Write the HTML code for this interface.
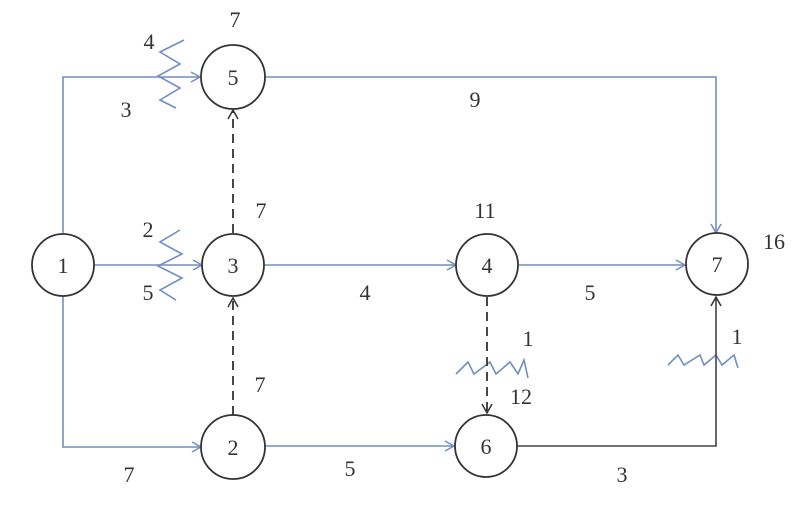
<!DOCTYPE html>
<html><head><meta charset="utf-8"><style>
html,body{margin:0;padding:0;background:#fff;}
svg text{font-family:"Liberation Serif",serif;font-size:22px;fill:#333;text-anchor:middle;}
</style></head><body>
<svg width="800" height="507" viewBox="0 0 800 507" xmlns="http://www.w3.org/2000/svg">
<defs>
<marker id="ab" markerWidth="12" markerHeight="12" refX="10" refY="6" orient="auto" markerUnits="userSpaceOnUse">
<path d="M1,1 L10,6 L1,11" fill="none" stroke="#6f8fbf" stroke-width="1.5"/></marker>
<marker id="ak" markerWidth="12" markerHeight="12" refX="10" refY="6" orient="auto" markerUnits="userSpaceOnUse">
<path d="M1,1 L10,6 L1,11" fill="none" stroke="#333" stroke-width="1.5"/></marker>
</defs>
<g fill="none" stroke="#6f8fbf" stroke-width="1.6">
<path d="M63,233 V77 H200" marker-end="url(#ab)"/>
<path d="M94,265 H202" marker-end="url(#ab)"/>
<path d="M63,296 V447 H201" marker-end="url(#ab)"/>
<path d="M265,77 H716 V233" marker-end="url(#ab)"/>
<path d="M264,265 H456" marker-end="url(#ab)"/>
<path d="M519,265 H685" marker-end="url(#ab)"/>
<path d="M264,446 H454" marker-end="url(#ab)"/>
<path d="M184,40 L160,52 L180,64 L158,76 L180,88 L160,100 L176,108"/>
<path d="M180,230 L160,242 L182,254 L158,266 L182,278 L160,290 L176,300"/>
<path d="M456,374 L468,362 L474,374 L490,362 L496,374 L510,362 L518,374 L524,360 L528,378"/>
<path d="M668,365 L678,355 L684,365 L700,355 L704,365 L716,355 L722,365 L734,355 L738,368"/>
</g>
<path d="M517,446 H716 V297" fill="none" stroke="#444" stroke-width="1.6" marker-end="url(#ak)"/>
<g fill="none" stroke="#333" stroke-width="1.8" stroke-dasharray="9,6">
<path d="M233,233 V110" marker-end="url(#ak)"/>
<path d="M233,415 V298" marker-end="url(#ak)"/>
<path d="M487,297 V413" marker-end="url(#ak)"/>
</g>
<g fill="#fff" stroke="#333" stroke-width="1.8">
<circle cx="63" cy="265" r="31"/>
<circle cx="233" cy="77" r="32"/>
<circle cx="233" cy="265" r="31"/>
<circle cx="233" cy="447" r="32"/>
<circle cx="487" cy="265" r="31"/>
<circle cx="486" cy="446" r="31"/>
<circle cx="717" cy="264" r="31"/>
</g>
<text x="63" y="273">1</text>
<text x="233" y="85">5</text>
<text x="233" y="273">3</text>
<text x="233" y="455">2</text>
<text x="487" y="273">4</text>
<text x="486" y="454">6</text>
<text x="717" y="272">7</text>
<text x="235" y="27">7</text>
<text x="149" y="49">4</text>
<text x="126" y="117">3</text>
<text x="475" y="107">9</text>
<text x="261" y="218">7</text>
<text x="485" y="218">11</text>
<text x="774" y="249">16</text>
<text x="148" y="237">2</text>
<text x="148" y="300">5</text>
<text x="365" y="300">4</text>
<text x="590" y="300">5</text>
<text x="528" y="346">1</text>
<text x="521" y="404">12</text>
<text x="737" y="344">1</text>
<text x="260" y="392">7</text>
<text x="129" y="482">7</text>
<text x="350" y="476">5</text>
<text x="622" y="482">3</text>
</svg>
</body></html>
